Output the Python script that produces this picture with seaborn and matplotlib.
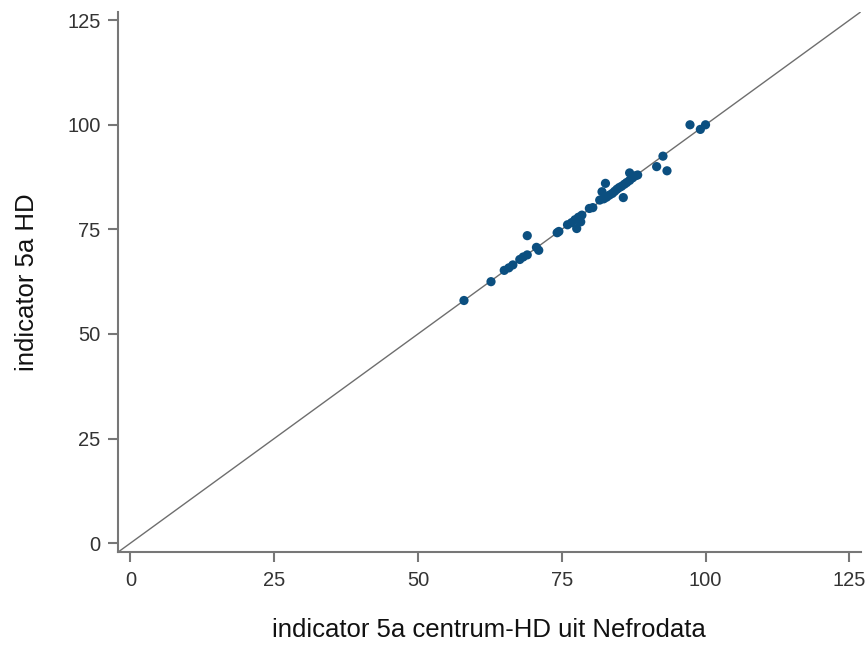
import matplotlib
matplotlib.use("Agg")
import matplotlib.pyplot as plt
import seaborn as sns
import pandas as pd

x_nefrodata = [58.0, 62.7, 65.0, 65.8, 66.5, 67.7, 68.3, 69.0, 69.0, 70.6, 71.0,
               74.2, 74.5, 76.0, 76.7, 77.3, 77.6, 77.9, 78.3, 78.5, 79.8, 80.4,
               81.6, 82.0, 82.3, 82.6, 82.8, 83.3, 83.8, 84.2, 84.6, 85.0, 85.4,
               85.7, 85.9, 86.3, 86.8, 86.8, 87.3, 87.8, 88.2, 91.5, 92.6, 93.3,
               97.3, 99.1, 100.0]
y_hd = [58.0, 62.5, 65.2, 65.8, 66.5, 67.8, 68.4, 68.9, 73.5, 70.7, 70.0,
        74.2, 74.5, 76.1, 76.6, 77.3, 75.2, 77.9, 76.8, 78.4, 80.0, 80.2,
        82.0, 84.0, 82.3, 86.0, 82.7, 83.2, 83.6, 84.1, 84.6, 85.0, 85.3,
        82.6, 85.8, 86.2, 88.5, 86.7, 87.3, 87.8, 88.0, 90.0, 92.5, 89.0,
        100.0, 98.9, 100.0]
ticks = [0, 25, 50, 75, 100, 125]

df = pd.DataFrame({"x": x_nefrodata, "y": y_hd})

sns.set_style("white")
plt.rcParams['font.family'] = ['Liberation Sans', 'DejaVu Sans']

fig = plt.figure(figsize=(8.66, 6.45), dpi=100)
ax = fig.add_axes([0.136, 0.144, 0.858, 0.837])

ax.axline((0, 0), slope=1, color="#6e6e6e", lw=1.0, zorder=1)
sns.scatterplot(data=df, x="x", y="y", ax=ax, color="#0b4f80", s=44,
                edgecolor="none", zorder=2)

ax.set_xlim(-2.2, 127.0)
ax.set_ylim(-2.15, 126.9)
ax.set_xticks(ticks)
ax.set_yticks(ticks)
ax.set_xticklabels([str(t) for t in ticks])
ax.set_yticklabels([str(t) for t in ticks])

for side in ["top", "right"]:
    ax.spines[side].set_visible(False)
for side in ["left", "bottom"]:
    ax.spines[side].set_color("#777777")
    ax.spines[side].set_linewidth(1.5)

ax.tick_params(axis="both", which="major", bottom=True, left=True,
               direction="out", length=7.5, width=1.5, color="#777777",
               labelsize=14.5, labelcolor="#333333")
ax.tick_params(axis="x", pad=6)
ax.tick_params(axis="y", pad=5)

ax.set_xlabel("indicator 5a centrum-HD uit Nefrodata", fontsize=18.5, color="#111111", labelpad=20)
ax.set_ylabel("indicator 5a HD", fontsize=18.5, color="#111111", labelpad=20)

fig.savefig("out.png", dpi=100)
